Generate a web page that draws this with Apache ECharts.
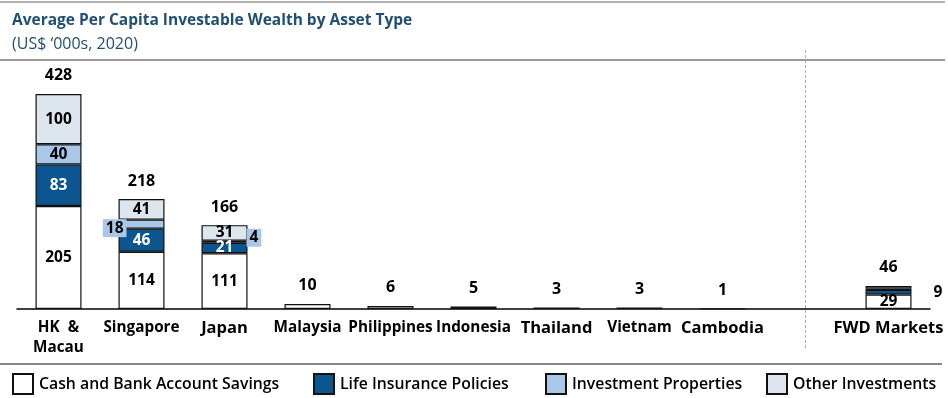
<!DOCTYPE html>
<html><head><meta charset="utf-8">
<script src="https://cdn.jsdelivr.net/npm/echarts@6/dist/echarts.min.js"></script>
<style>html,body{margin:0;padding:0;background:#fff}#c{width:948px;height:398px}</style>
</head><body><div id="c"></div>
<script>
const categories = ['HK  &\nMacau','Singapore','Japan','Malaysia','Philippines','Indonesia','Thailand','Vietnam','Cambodia','','FWD Markets'];
const cashSavings = [205,114,111,10,6,5,3,3,1,null,29];
const lifeInsurance = [83,46,21,0,0,0,0,0,0,null,9];
const investmentProperties = [40,18,4,0,0,0,0,0,0,null,3];
const otherInvestments = [100,41,31,0,0,0,0,0,0,null,5];
const totals = [428,218,166,10,6,5,3,3,1,null,46];
const seriesNames = ['Cash and Bank Account Savings','Life Insurance Policies','Investment Properties','Other Investments'];

const FONT = 'Open Sans';
const NAVY = '#1f4e79';
const DARK = '#0b5591';
const LIGHT = '#a9c8e8';
const PALE = '#dde5ef';

const chart = echarts.init(document.getElementById('c'), null, {renderer:'canvas'});
const baseLabel = {fontFamily: FONT, fontWeight: 'bold', fontSize: 15.5, color: '#000'};
const bigCats = {'Japan':1,'Thailand':1,'Cambodia':1,'FWD Markets':1};

function segData(arr, opts) {
  return arr.map((v, i) => {
    if (v === null || v === 0) return '-';
    const item = {value: v};
    const o = opts(v, i);
    if (o) item.label = Object.assign({}, baseLabel, o);
    return item;
  });
}

const cashData = segData(cashSavings, v => v >= 20 ? {show: true, position: 'inside'} : {show: false});
const lifeData = segData(lifeInsurance, (v, i) => {
  if (v >= 15) return {show: true, position: 'inside', color: '#fff'};
  if (i === 10) return {show: true, position: 'right', distance: 22, color: '#000'};
  return {show: false};
});
const invData = segData(investmentProperties, (v, i) => {
  if (v >= 30) return {show: true, position: 'inside'};
  if (i === 1) return {show: true, position: 'left', distance: -8, offset: [0, 4], backgroundColor: LIGHT, padding: [2, 3, 0, 3]};
  if (i === 2) return {show: true, position: 'right', distance: -1, offset: [0, -4], backgroundColor: LIGHT, padding: [2, 3, 0, 3]};
  return {show: false};
});
const otherData = segData(otherInvestments, v => v >= 20 ? {show: true, position: 'inside'} : {show: false});

function barSeries(name, data, color) {
  return {
    name, type: 'bar', stack: 'w', data, barWidth: 46,
    itemStyle: {color, borderColor: '#111', borderWidth: 1.2},
    label: Object.assign({show: false}, baseLabel),
    emphasis: {disabled: true}
  };
}

const legendLefts = [7, 308, 540, 761];
const legends = seriesNames.map((n, i) => ({
  data: [n], left: legendLefts[i], top: 368, icon: 'rect', itemWidth: 20, itemHeight: 20, itemGap: 0,
  textStyle: {fontFamily: FONT, fontSize: 15.8, fontWeight: 600, color: '#000', padding: [0, 0, 0, 1]},
  selectedMode: false
}));

const option = {
  animation: false,
  textStyle: {fontFamily: FONT},
  title: [
    {text: 'Average Per Capita Investable Wealth by Asset Type', left: 7, top: 8,
     textStyle: {fontFamily: FONT, fontSize: 15.5, fontWeight: 'bold', color: NAVY}},
    {text: '(US$ \u2018000s, 2020)', left: 7, top: 31,
     textStyle: {fontFamily: FONT, fontSize: 16, fontWeight: 'normal', color: NAVY}}
  ],
  legend: legends,
  grid: {left: 17, right: 18, top: 70, bottom: 89},
  xAxis: {
    type: 'category',
    data: categories.map(c => bigCats[c] ? {value: c, textStyle: {fontSize: 16.5}} : c),
    axisLine: {lineStyle: {color: '#000', width: 1.5}},
    axisTick: {show: false},
    axisLabel: {interval: 0, margin: 9, fontFamily: FONT, fontWeight: 'bold', fontSize: 15.3, color: '#000', lineHeight: 20}
  },
  yAxis: {type: 'value', min: 0, max: 476, show: false, splitLine: {show: false}},
  series: [
    barSeries(seriesNames[0], cashData, '#fff'),
    barSeries(seriesNames[1], lifeData, DARK),
    barSeries(seriesNames[2], invData, LIGHT),
    barSeries(seriesNames[3], otherData, PALE),
    {
      name: 'Total', type: 'scatter', data: totals.map(v => v === null ? '-' : v),
      symbolSize: 1, itemStyle: {color: 'rgba(0,0,0,0)', opacity: 1},
      label: {show: true, position: 'top', distance: 10, fontFamily: FONT, fontWeight: 'bold', fontSize: 16, color: '#000', opacity: 1},
      emphasis: {disabled: true}, z: 5
    }
  ]
};
chart.setOption(option);

const divX = chart.convertToPixel({xAxisIndex: 0}, 9);
chart.setOption({
  graphic: [
    {type: 'line', shape: {x1: 0, y1: 2, x2: 945, y2: 2}, style: {stroke: '#999', lineWidth: 1.5}},
    {type: 'line', shape: {x1: 0, y1: 60, x2: 945, y2: 60}, style: {stroke: '#777', lineWidth: 1.5}},
    {type: 'line', shape: {x1: 0, y1: 364, x2: 942, y2: 364}, style: {stroke: '#111', lineWidth: 1.2}},
    {type: 'line', shape: {x1: divX, y1: 50, x2: divX, y2: 348}, style: {stroke: '#aaa', lineWidth: 1, lineDash: [3, 2]}}
  ]
});
</script></body></html>
